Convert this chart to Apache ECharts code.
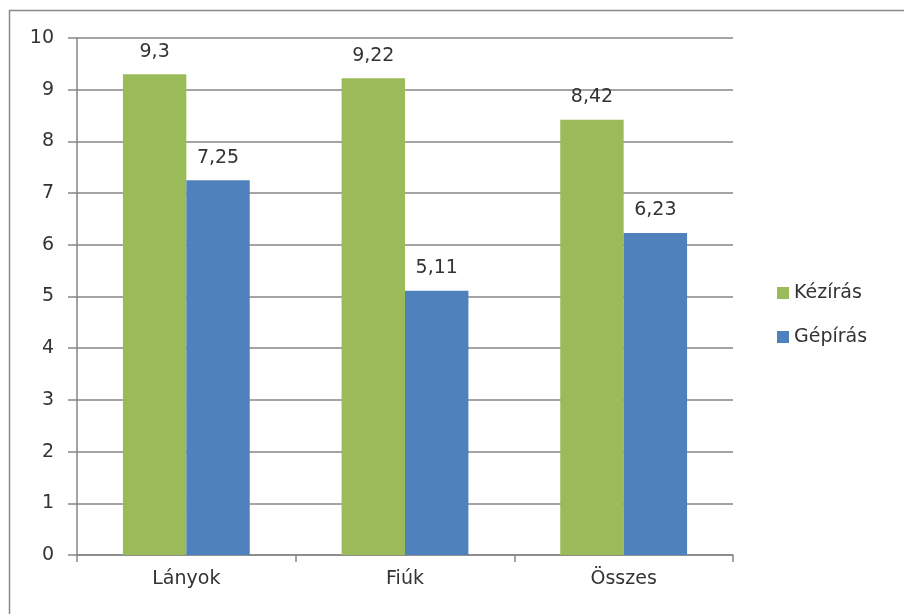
<!DOCTYPE html>
<html>
<head>
<meta charset="utf-8">
<script src="https://cdn.jsdelivr.net/npm/echarts@6/dist/echarts.min.js"></script>
<style>
html,body{margin:0;padding:0;background:#fff;}
#chart{width:904px;height:614px;}
</style>
</head>
<body>
<div id="chart"></div>
<script>
const categories = ['Lányok', 'Fiúk', 'Összes'];
const seriesNames = ['Kézírás', 'Gépírás'];
const kezirasValues = [9.3, 9.22, 8.42];
const gepirasValues = [7.25, 5.11, 6.23];
const yTicks = [0, 1, 2, 3, 4, 5, 6, 7, 8, 9, 10];

const font = '"DejaVu Sans", "Liberation Sans", Arial, sans-serif';
const textColor = '#333333';
const lineColor = '#868686';

const chart = echarts.init(document.getElementById('chart'));
const fmt = p => String(p.value).replace('.', ',');

chart.setOption({
  animation: false,
  backgroundColor: '#fff',
  graphic: [{
    type: 'rect',
    shape: {x: 9.5, y: 10.5, width: 1200, height: 1200},
    style: {fill: 'none', stroke: '#8a8a8a', lineWidth: 1.5},
    silent: true
  }],
  grid: {left: 77, right: 171, top: 38, bottom: 59, containLabel: false},
  legend: {
    orient: 'vertical',
    left: 772,
    top: 277,
    itemWidth: 12,
    itemHeight: 12,
    itemGap: 22,
    icon: 'rect',
    textStyle: {fontFamily: font, fontSize: 19, color: textColor, lineHeight: 22},
    data: seriesNames
  },
  xAxis: {
    type: 'category',
    data: categories,
    axisLine: {lineStyle: {color: lineColor, width: 1.5}},
    axisTick: {show: true, length: 7, lineStyle: {color: lineColor, width: 1.5}},
    axisLabel: {fontFamily: font, fontSize: 19, color: textColor, margin: 15}
  },
  yAxis: {
    type: 'value',
    min: yTicks[0],
    max: yTicks[yTicks.length - 1],
    interval: 1,
    axisLine: {show: true, lineStyle: {color: lineColor, width: 1.5}},
    axisTick: {show: true, length: 9, inside: false, lineStyle: {color: lineColor, width: 1.5}},
    splitLine: {lineStyle: {color: lineColor, width: 1.5}},
    axisLabel: {fontFamily: font, fontSize: 19, color: textColor, margin: 23}
  },
  series: [
    {
      name: seriesNames[0],
      type: 'bar',
      data: kezirasValues,
      barGap: '0%',
      barCategoryGap: '42%',
      itemStyle: {color: '#9BBB59'},
      label: {show: true, position: 'top', distance: 13, formatter: fmt,
              fontFamily: font, fontSize: 19, color: textColor}
    },
    {
      name: seriesNames[1],
      type: 'bar',
      data: gepirasValues,
      itemStyle: {color: '#4F81BD'},
      label: {show: true, position: 'top', distance: 13, formatter: fmt,
              fontFamily: font, fontSize: 19, color: textColor}
    }
  ]
});
</script>
</body>
</html>
